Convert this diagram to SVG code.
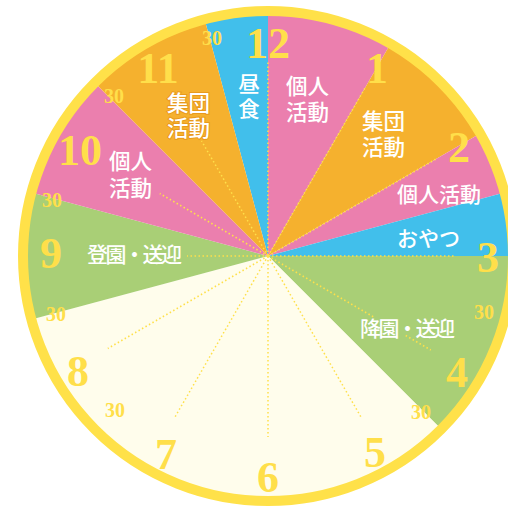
<svg xmlns="http://www.w3.org/2000/svg" width="508" height="507" viewBox="0 0 508 507">
<style>
.pink{fill:#eb7fae}
.orange{fill:#f5b12e}
.blue{fill:#41bfeb}
.green{fill:#a9cf76}
.cream{fill:#fffdec}
.ring{fill:none;stroke:#ffe149;stroke-width:10}
.dot{stroke:#ffe04a;stroke-width:1.5;stroke-dasharray:1.5 2.5;fill:none}
.num{font-family:"Liberation Serif","Times New Roman",serif;font-weight:bold;fill:#ffdf4a;text-anchor:middle;font-size:44px}
.half{font-family:"Liberation Serif","Times New Roman",serif;font-weight:bold;fill:#ffdf4a;text-anchor:middle;font-size:20px}
.lbl{font-family:"Noto Sans CJK JP","Noto Sans",sans-serif;font-weight:500;fill:#ffffff;font-size:21.5px}
.lbl1{font-family:"Noto Sans CJK JP","Noto Sans",sans-serif;font-weight:500;fill:#ffffff;font-size:21px}
.halo{stroke:#e99a1c;stroke-width:2;paint-order:stroke}
</style>
<rect width="508" height="507" fill="#ffffff"/>
<g id="wedges">
<g id="lunch"><path class="blue" d="M268,256 L204.59,19.35 A245,245 0 0 1 268,11 Z"/></g>
<g id="individual-12"><path class="pink" d="M268,256 L268,11 A245,245 0 0 1 390.5,43.82 Z"/></g>
<g id="group-1"><path class="orange" d="M268,256 L390.5,43.82 A245,245 0 0 1 480.18,133.5 Z"/></g>
<g id="individual-2"><path class="pink" d="M268,256 L480.18,133.5 A245,245 0 0 1 504.65,192.59 Z"/></g>
<g id="snack"><path class="blue" d="M268,256 L504.65,192.59 A245,245 0 0 1 513,256 Z"/></g>
<g id="leaving"><path class="green" d="M268,256 L513,256 A245,245 0 0 1 441.24,429.24 Z"/></g>
<g id="night"><path class="cream" d="M268,256 L441.24,429.24 A245,245 0 0 1 31.35,319.41 Z"/></g>
<g id="arrival"><path class="green" d="M268,256 L31.35,319.41 A245,245 0 0 1 31.35,192.59 Z"/></g>
<g id="individual-10"><path class="pink" d="M268,256 L31.35,192.59 A245,245 0 0 1 94.76,82.76 Z"/></g>
<g id="group-11"><path class="orange" d="M268,256 L94.76,82.76 A245,245 0 0 1 204.59,19.35 Z"/></g>
</g>
<g id="connectors">
<line class="dot" x1="268" y1="256" x2="268" y2="60"/>
<line class="dot" x1="268" y1="256" x2="366" y2="86.3"/>
<line class="dot" x1="268" y1="256" x2="437.7" y2="158"/>
<line class="dot" x1="268" y1="256" x2="455" y2="256"/>
<line class="dot" x1="268" y1="256" x2="375.4" y2="318"/>
<line class="dot" x1="405.7" y1="335.5" x2="430.8" y2="350"/>
<line class="dot" x1="268" y1="256" x2="361.2" y2="417.4"/>
<line class="dot" x1="268" y1="256" x2="268" y2="437"/>
<line class="dot" x1="268" y1="256" x2="175" y2="417"/>
<line class="dot" x1="268" y1="256" x2="107.8" y2="348.5"/>
<line class="dot" x1="268" y1="256" x2="187" y2="256"/>
<line class="dot" x1="268" y1="256" x2="159.75" y2="193.5"/>
<line class="dot" x1="268" y1="256" x2="201.5" y2="140.8"/>
</g>
<g id="rim"><circle class="ring" cx="268" cy="256" r="245"/></g>
<g id="hours">
<text class="num" x="268" y="58">12</text>
<text class="num" x="377" y="83">1</text>
<text class="num" x="459" y="162">2</text>
<text class="num" x="488" y="272">3</text>
<text class="num" x="457" y="387">4</text>
<text class="num" x="375" y="467">5</text>
<text class="num" x="268" y="492">6</text>
<text class="num" x="166" y="469">7</text>
<text class="num" x="78" y="386">8</text>
<text class="num" x="51" y="268">9</text>
<text class="num" x="80" y="165">10</text>
<text class="num" x="158" y="83">11</text>
</g>
<g id="half-hours">
<text class="half" x="212" y="45">30</text>
<text class="half" x="114" y="103">30</text>
<text class="half" x="52" y="207">30</text>
<text class="half" x="56" y="321">30</text>
<text class="half" x="115" y="417">30</text>
<text class="half" x="421" y="419">30</text>
<text class="half" x="484" y="319">30</text>
</g>
<g id="label-lunch">
<text class="lbl" text-anchor="middle" x="249" y="92">昼</text>
<text class="lbl" text-anchor="middle" x="249" y="117">食</text>
</g>
<g id="label-individual-12">
<text class="lbl" x="286" y="94">個人</text>
<text class="lbl" x="286" y="120">活動</text>
</g>
<g id="label-group-1">
<text class="lbl" x="362" y="129">集団</text>
<text class="lbl" x="362" y="155">活動</text>
</g>
<g id="label-individual-2"><text class="lbl1" x="397" y="202">個人活動</text></g>
<g id="label-snack"><text class="lbl1" x="397" y="246">おやつ</text></g>
<g id="label-leaving"><text class="lbl1" x="360" y="336" textLength="95" lengthAdjust="spacing">降園・送迎</text></g>
<g id="label-arrival"><text class="lbl1" x="87" y="262" textLength="95" lengthAdjust="spacing">登園・送迎</text></g>
<g id="label-individual-10">
<text class="lbl" x="109" y="169">個人</text>
<text class="lbl" x="109" y="196">活動</text>
</g>
<g id="label-group-11">
<text class="lbl halo" x="167" y="111">集団</text>
<text class="lbl halo" x="167" y="136">活動</text>
</g>
</svg>
